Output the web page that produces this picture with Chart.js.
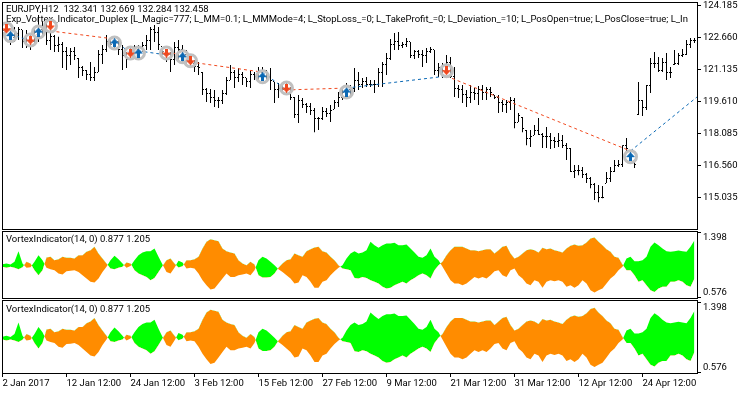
<!DOCTYPE html>
<html>
<head>
<meta charset="utf-8">
<title>EURJPY,H12</title>
<script src="https://cdn.jsdelivr.net/npm/chart.js@4"></script>
<style>
body { margin: 0; background: #fff; overflow: hidden; }
canvas { position: absolute; left: 0; }
</style>
</head>
<body>
<canvas id="price" width="750" height="231" style="top:0"></canvas>
<canvas id="vortex1" width="750" height="71" style="top:229px"></canvas>
<canvas id="vortex2" width="750" height="96" style="top:298px"></canvas>
<script>
var highs = [
123.26,123.21,123.11,123.16,123.16,123.02,123.02,122.78,123.11,123.73,
123.40,123.50,123.26,122.78,122.69,122.45,122.21,122.16,122.21,121.68,
121.30,121.11,121.49,121.25,122.07,122.30,122.78,122.64,122.54,122.54,
122.30,121.97,122.16,122.30,122.30,122.45,122.78,123.16,123.26,123.16,
122.21,122.07,121.97,122.45,122.54,122.30,122.07,121.83,121.59,121.49,
121.01,120.25,120.20,120.16,119.82,120.16,120.78,121.35,121.11,121.21,
121.01,120.73,121.11,121.01,121.25,121.25,121.11,121.21,120.54,120.49,
120.40,120.49,120.30,119.82,119.92,119.78,119.54,119.54,119.30,118.87,
119.35,119.30,119.44,119.68,120.06,120.30,120.49,120.40,121.21,121.01,
120.73,120.78,120.63,120.63,121.21,121.49,121.92,122.59,122.88,122.92,
122.45,122.64,122.45,122.07,122.07,122.07,122.16,122.21,122.07,121.44,
121.44,121.83,121.73,121.25,120.40,120.40,120.16,120.40,120.25,120.35,
120.40,120.30,120.30,119.92,119.92,119.68,119.68,119.82,119.78,119.06,
118.87,118.25,118.25,118.49,118.82,118.11,118.39,118.11,117.92,118.11,
118.01,117.63,117.39,116.58,116.58,116.49,116.20,116.01,115.72,115.63,
115.58,116.25,116.49,116.82,116.82,117.53,117.87,117.25,116.82,120.54,
119.68,120.40,121.68,121.97,121.73,121.68,121.92,121.25,122.07,121.92,
122.11,122.54,122.64,122.64];
var lows = [
122.78,122.73,122.30,122.45,122.54,122.16,122.16,122.07,122.30,122.45,
122.64,122.30,122.07,121.97,121.97,121.21,121.11,121.35,121.59,120.73,
120.82,120.63,120.59,120.59,121.01,121.40,121.97,122.16,122.16,121.83,
121.11,121.21,121.59,121.68,121.59,121.97,122.07,122.07,122.45,122.07,
121.83,121.49,121.01,121.35,121.59,121.49,121.35,121.21,121.01,120.87,
119.92,119.58,119.54,119.35,119.30,119.49,119.92,120.63,120.25,120.54,
120.40,120.30,120.25,120.63,120.54,120.63,120.54,120.16,119.54,119.78,
120.01,120.01,119.68,118.82,118.58,119.30,119.06,118.97,118.15,118.25,
118.73,118.87,118.63,119.25,119.35,119.68,119.92,119.82,120.06,120.16,
120.25,120.30,120.30,120.01,120.30,120.30,120.87,121.59,122.07,122.07,
122.16,122.21,121.68,121.64,121.68,121.25,121.44,121.92,120.87,120.78,
120.73,120.97,120.73,119.82,119.78,119.54,119.35,119.54,119.68,119.44,
119.68,119.68,119.82,119.73,119.06,119.11,119.06,119.20,118.34,118.63,
118.15,117.53,117.44,118.01,118.01,117.39,117.39,117.34,117.39,117.44,
117.39,116.82,116.25,115.96,116.10,115.96,115.72,115.48,114.91,114.81,
115.00,115.72,115.77,116.25,116.49,116.49,117.15,116.82,116.44,118.97,
118.92,119.20,120.01,121.21,121.01,121.01,120.63,120.73,121.35,121.35,
121.73,121.83,122.16,122.40];
var closes = [
122.97,123.11,122.64,122.83,123.02,122.45,122.54,122.49,122.92,123.02,
123.11,122.54,122.73,122.26,122.35,121.97,121.78,121.97,121.78,121.21,
121.11,120.92,120.73,121.01,121.87,122.07,122.45,122.35,122.45,122.07,
121.78,121.59,121.97,122.07,122.16,122.26,122.54,123.02,122.92,122.35,
121.97,121.87,121.59,122.16,122.07,121.87,121.59,121.40,121.30,121.21,
120.16,119.97,119.78,119.68,119.68,119.97,120.63,121.01,120.73,120.92,
120.73,120.54,120.92,120.82,121.01,121.11,120.82,120.63,120.16,120.25,
120.16,120.16,119.82,118.97,119.68,119.49,119.39,119.20,118.82,118.82,
119.11,119.06,119.20,119.54,119.78,120.06,120.16,120.25,120.63,120.44,
120.54,120.44,120.44,120.44,121.01,121.35,121.68,122.35,122.45,122.30,
122.35,122.45,121.78,121.97,121.87,121.78,121.97,122.07,121.11,121.21,
121.11,121.49,120.82,120.25,120.16,119.92,119.78,120.06,119.97,120.16,
120.06,120.16,120.06,119.82,119.58,119.49,119.58,119.68,118.63,118.92,
118.34,117.87,117.96,118.25,118.06,117.96,117.96,117.77,117.68,117.77,
117.49,117.39,116.25,116.34,116.34,116.15,115.96,115.67,115.29,115.05,
115.05,115.96,116.25,116.58,116.63,117.49,117.39,117.06,116.63,119.68,
119.30,120.35,121.40,121.40,121.11,121.49,121.01,121.01,121.40,121.78,
121.87,122.35,122.54,122.54];
var opens = [
122.90,122.97,123.11,122.64,122.83,123.02,122.45,122.54,122.49,122.92,
123.02,123.11,122.54,122.73,122.26,122.35,121.97,121.78,121.97,121.68,
121.21,121.11,120.92,120.73,121.01,121.87,122.07,122.45,122.35,122.45,
122.07,121.78,121.59,121.97,122.07,122.16,122.26,122.54,123.02,122.92,
122.21,121.97,121.87,121.59,122.16,122.07,121.87,121.59,121.40,121.30,
121.01,120.16,119.97,119.78,119.68,119.68,119.97,120.63,121.01,120.73,
120.92,120.73,120.54,120.92,120.82,121.01,121.11,120.82,120.54,120.16,
120.25,120.16,120.16,119.82,118.97,119.68,119.49,119.39,119.20,118.82,
118.82,119.11,119.06,119.25,119.54,119.78,120.06,120.16,120.25,120.63,
120.44,120.54,120.44,120.44,120.44,121.01,121.35,121.68,122.35,122.45,
122.30,122.35,122.45,121.78,121.97,121.87,121.78,121.97,122.07,121.11,
121.21,121.11,121.49,120.82,120.25,120.16,119.92,119.78,120.06,119.97,
120.16,120.06,120.16,119.92,119.82,119.58,119.49,119.58,119.68,118.63,
118.87,118.25,117.87,118.01,118.25,118.06,117.96,117.96,117.77,117.68,
117.77,117.49,117.39,116.25,116.34,116.34,116.15,115.96,115.67,115.29,
115.05,115.72,115.96,116.25,116.58,116.63,117.49,117.25,116.82,118.97,
119.68,119.30,120.35,121.40,121.40,121.11,121.49,121.01,121.35,121.40,
121.78,121.87,122.35,122.54];

var viPlus = [
.997,1.006,.993,1.027,1.162,1.006,.951,.959,1.027,1.111,
1.048,.951,.934,.921,.879,.867,.909,.913,.921,.900,
.858,.816,.774,.765,.816,.900,.964,1.048,1.103,1.061,
1.006,.951,.976,1.048,1.111,1.145,1.162,1.162,1.196,1.090,
.993,.900,.879,.951,1.040,1.019,.943,.951,.943,.879,
.795,.732,.677,.689,.753,.816,.879,.837,.837,.858,
.867,.879,.858,.921,1.048,1.090,1.069,1.027,.985,.934,
.900,.858,.816,.753,.765,.858,.837,.774,.698,.698,
.774,.795,.858,.909,.951,.985,1.069,1.133,1.162,1.133,
1.145,1.175,1.280,1.238,1.204,1.238,1.259,1.259,1.268,1.238,
1.238,1.246,1.196,1.145,1.090,1.078,1.111,1.196,1.090,1.048,
.964,.879,.795,.753,.753,.732,.753,.795,.837,.816,
.837,.816,.858,.909,.921,.858,.837,.921,.943,.858,
.816,.753,.732,.795,.774,.698,.774,.795,.782,.795,
.774,.711,.732,.698,.732,.795,.753,.668,.639,.668,
.689,.753,.816,.858,.921,.964,1.069,1.090,1.035,1.035,
1.048,1.090,1.217,1.272,1.238,1.196,1.162,1.154,1.162,1.171,
1.162,1.154,1.217,1.301];
var viMinus = [
.964,.951,.964,.951,.934,.959,1.027,1.006,.921,.858,
.921,1.082,1.090,1.048,1.061,1.090,1.078,1.078,1.069,1.111,
1.111,1.154,1.175,1.217,1.133,1.069,1.006,.943,.934,.951,
.964,1.019,1.006,.921,.879,.858,.837,.795,.824,.900,
.976,1.048,1.069,1.006,.955,.972,1.048,1.048,1.061,1.090,
1.196,1.280,1.314,1.301,1.289,1.196,1.162,1.145,1.133,1.048,
1.006,.985,1.027,.993,.858,.829,.829,.837,.879,.951,
1.006,1.048,1.061,1.133,1.111,1.090,1.162,1.187,1.208,1.217,
1.162,1.145,1.090,1.048,.985,.943,.934,.921,.824,.816,
.837,.824,.795,.774,.753,.711,.689,.698,.732,.753,
.774,.753,.795,.824,.858,.879,.858,.816,.921,.985,
1.027,1.111,1.175,1.217,1.217,1.217,1.196,1.175,1.175,1.162,
1.175,1.187,1.187,1.133,1.175,1.217,1.230,1.133,1.069,1.090,
1.133,1.175,1.187,1.175,1.145,1.204,1.187,1.196,1.175,1.162,
1.145,1.196,1.230,1.246,1.230,1.238,1.272,1.322,1.335,1.280,
1.238,1.187,1.154,1.090,1.078,.993,.921,.921,.858,.774,
.795,.732,.668,.647,.689,.711,.711,.774,.774,.795,
.774,.732,.711,.816];

var tradeBars = [1, 2, 7, 9, 12, 28, 32, 34, 41, 45, 47, 65, 71, 86, 111, 157, 173.6];
var tradePrices = [123.07, 122.83, 122.49, 122.92, 122.97, 122.59, 121.87, 122.02, 121.83, 121.97, 121.49, 121.01, 120.16, 120.25, 120.82, 117.25, 119.82];
var buyBars = [2, 9, 28, 34, 45, 65, 86, 157];
var buyPrices = [122.75, 122.92, 122.40, 121.92, 121.74, 120.79, 120.06, 116.98];
var sellBars = [1, 7, 12, 32, 41, 47, 71, 111];
var sellPrices = [123.07, 122.54, 123.21, 121.92, 121.92, 121.55, 120.25, 121.08];

var priceTicks = [124.185, 122.660, 121.135, 119.610, 118.085, 116.560, 115.035];
var vortexTicks = [1.398, 0.576];
var timeTickBars = [0, 16, 32, 48, 64, 80, 96, 112, 128, 144, 160];
var timeTickLabels = ["2 Jan 2017", "12 Jan 12:00", "24 Jan 12:00", "3 Feb 12:00", "15 Feb 12:00", "27 Feb 12:00", "9 Mar 12:00", "21 Mar 12:00", "31 Mar 12:00", "12 Apr 12:00", "24 Apr 12:00"];

var headerLines = [
  "EURJPY,H12  132.341 132.669 132.284 132.458",
  "Exp_Vortex_Indicator_Duplex [L_Magic=777; L_MM=0.1; L_MMMode=4; L_StopLoss_=0; L_TakeProfit_=0; L_Deviation_=10; L_PosOpen=true; L_PosClose=true; L_In"
];
var vortexTitle = "VortexIndicator(14, 0) 0.877 1.205";

var FONT_FAMILY = 'Roboto';
var FONT_SIZE = 9.5;
var BUY_COLOR = '#0a68b4';
var SELL_COLOR = '#f0481e';

Chart.defaults.font.family = FONT_FAMILY;
Chart.defaults.font.size = FONT_SIZE;
Chart.defaults.color = '#000';

function pts(xs, ys) {
  return xs.map(function(x, i) { return {x: x, y: ys[i]}; });
}

function tickMark(side) {
  var c = document.createElement('canvas');
  c.width = 3; c.height = 1;
  var g = c.getContext('2d');
  g.fillStyle = '#000';
  g.fillRect(side < 0 ? 0 : 2, 0, 1, 1);
  return c;
}

function arrowMark(color, up) {
  var c = document.createElement('canvas');
  c.width = 9; c.height = 9;
  var g = c.getContext('2d');
  if (!up) { g.translate(0, 9); g.scale(1, -1); }
  g.fillStyle = color;
  g.beginPath();
  g.moveTo(4.5, 0); g.lineTo(9, 5); g.lineTo(6, 5); g.lineTo(6, 9);
  g.lineTo(3, 9); g.lineTo(3, 5); g.lineTo(0, 5);
  g.closePath();
  g.fill();
  return c;
}

// frame round the pane, plus the text MetaTrader writes inside it
function panePlugin(lines, lineYs, sideLabels) {
  return {
    id: 'pane',
    beforeDatasetsDraw: function(chart) {
      var a = chart.chartArea, ctx = chart.ctx;
      ctx.save();
      ctx.beginPath();
      ctx.rect(a.left, a.top, a.width, a.height);
      ctx.clip();
      ctx.font = FONT_SIZE + 'px ' + FONT_FAMILY;
      ctx.fillStyle = '#000';
      ctx.textBaseline = 'middle';
      lines.forEach(function(t, i) { ctx.fillText(t, 6, lineYs[i]); });
      ctx.restore();
    },
    afterDraw: function(chart) {
      var a = chart.chartArea, ctx = chart.ctx;
      ctx.save();
      ctx.strokeStyle = '#000';
      ctx.lineWidth = 1;
      ctx.strokeRect(a.left + 0.5, a.top + 0.5, a.width, a.height);
      if (sideLabels) {
        ctx.font = FONT_SIZE + 'px ' + FONT_FAMILY;
        ctx.fillStyle = '#000';
        ctx.textBaseline = 'middle';
        sideLabels.forEach(function(v, i) {
          var y = chart.scales.y.getPixelForValue(v);
          ctx.fillText(v.toFixed(3), 703, y + (i === 0 ? 5 : -5));
        });
      }
      ctx.restore();
    }
  };
}

function noPadding(s) {
  s.paddingTop = 0; s.paddingBottom = 0; s.paddingLeft = 0; s.paddingRight = 0;
}

function paneOptions(yMin, yMax, yTicks, showLabels, showTime, bottomPad) {
  return {
    responsive: false,
    animation: false,
    events: [],
    layout: {autoPadding: false, padding: {left: 2, right: 0, top: 2, bottom: bottomPad}},
    plugins: {legend: {display: false}, tooltip: {enabled: false}, title: {display: false}},
    scales: {
      x: {
        type: 'linear',
        offset: false,
        min: -0.125,
        max: 173.625,
        display: showTime,
        border: {display: false},
        grid: {offset: false, drawOnChartArea: false, tickLength: 4, tickColor: '#000', tickWidth: 1},
        afterBuildTicks: function(s) { s.ticks = timeTickBars.map(function(v) { return {value: v}; }); },
        afterFit: function(s) { s.height = showTime ? 21 : 0; noPadding(s); },
        ticks: {
          autoSkip: false,
          maxRotation: 0,
          align: 'start',
          padding: 1,
          callback: function(v) { return timeTickLabels[timeTickBars.indexOf(v)]; }
        }
      },
      y: {
        position: 'right',
        min: yMin,
        max: yMax,
        border: {display: false},
        grid: {drawOnChartArea: false, tickLength: 4, tickColor: '#000', tickWidth: 1},
        afterBuildTicks: function(s) { s.ticks = yTicks.map(function(v) { return {value: v}; }); },
        afterFit: function(s) { s.width = 53; noPadding(s); },
        ticks: {
          display: showLabels,
          padding: 2,
          callback: function(v) { return v.toFixed(3); }
        }
      }
    }
  };
}

var bars = highs.map(function(h, i) { return {x: i, y: [lows[i], h]}; });
var barIndex = highs.map(function(h, i) { return i; });

var priceSets = [
  {type: 'bar', data: bars, backgroundColor: '#000', borderWidth: 0, barThickness: 1, inflateAmount: 0, order: 10},
  {type: 'line', showLine: false, data: pts(barIndex, opens), pointStyle: tickMark(-1), pointRadius: 2, order: 9},
  {type: 'line', showLine: false, data: pts(barIndex, closes), pointStyle: tickMark(1), pointRadius: 2, order: 9}
];
for (var t = 0; t < tradeBars.length - 1; t++) {
  priceSets.push({
    type: 'line',
    data: pts(tradeBars.slice(t, t + 2), tradePrices.slice(t, t + 2)),
    borderColor: t % 2 ? BUY_COLOR : SELL_COLOR,
    borderWidth: 1,
    borderDash: [3, 3],
    pointRadius: 0,
    order: 5
  });
}
[[buyBars, buyPrices, BUY_COLOR, true], [sellBars, sellPrices, SELL_COLOR, false]].forEach(function(m) {
  priceSets.push({
    type: 'line', showLine: false, data: pts(m[0], m[1]),
    pointStyle: 'circle', pointRadius: 6, pointBorderWidth: 3,
    pointBorderColor: '#c0c0c0', pointBackgroundColor: 'rgba(255,255,255,0.5)', order: 3
  });
  priceSets.push({
    type: 'line', showLine: false, data: pts(m[0], m[1]),
    pointStyle: arrowMark(m[2], m[3]), pointRadius: 4, order: 2
  });
});

new Chart(document.getElementById('price'), {
  type: 'bar',
  data: {datasets: priceSets},
  options: paneOptions(113.533, 124.352, priceTicks, true, false, 2),
  plugins: [panePlugin(headerLines, [10, 20], null)]
});

function vortexSets() {
  return [
    {
      data: pts(barIndex, viPlus),
      borderWidth: 0, borderColor: 'transparent', pointRadius: 0, tension: 0,
      fill: {target: 1, above: '#00ff00', below: '#ff8c00'}
    },
    {
      data: pts(barIndex, viMinus),
      borderWidth: 0, borderColor: 'transparent', pointRadius: 0, tension: 0, fill: false
    }
  ];
}

new Chart(document.getElementById('vortex1'), {
  type: 'line',
  data: {datasets: vortexSets()},
  options: paneOptions(0.570, 1.417, vortexTicks, false, false, 2),
  plugins: [panePlugin([vortexTitle], [11], vortexTicks)]
});

new Chart(document.getElementById('vortex2'), {
  type: 'line',
  data: {datasets: vortexSets()},
  options: paneOptions(0.570, 1.427, vortexTicks, false, true, 0),
  plugins: [panePlugin([vortexTitle], [12], vortexTicks)]
});
</script>
</body>
</html>
